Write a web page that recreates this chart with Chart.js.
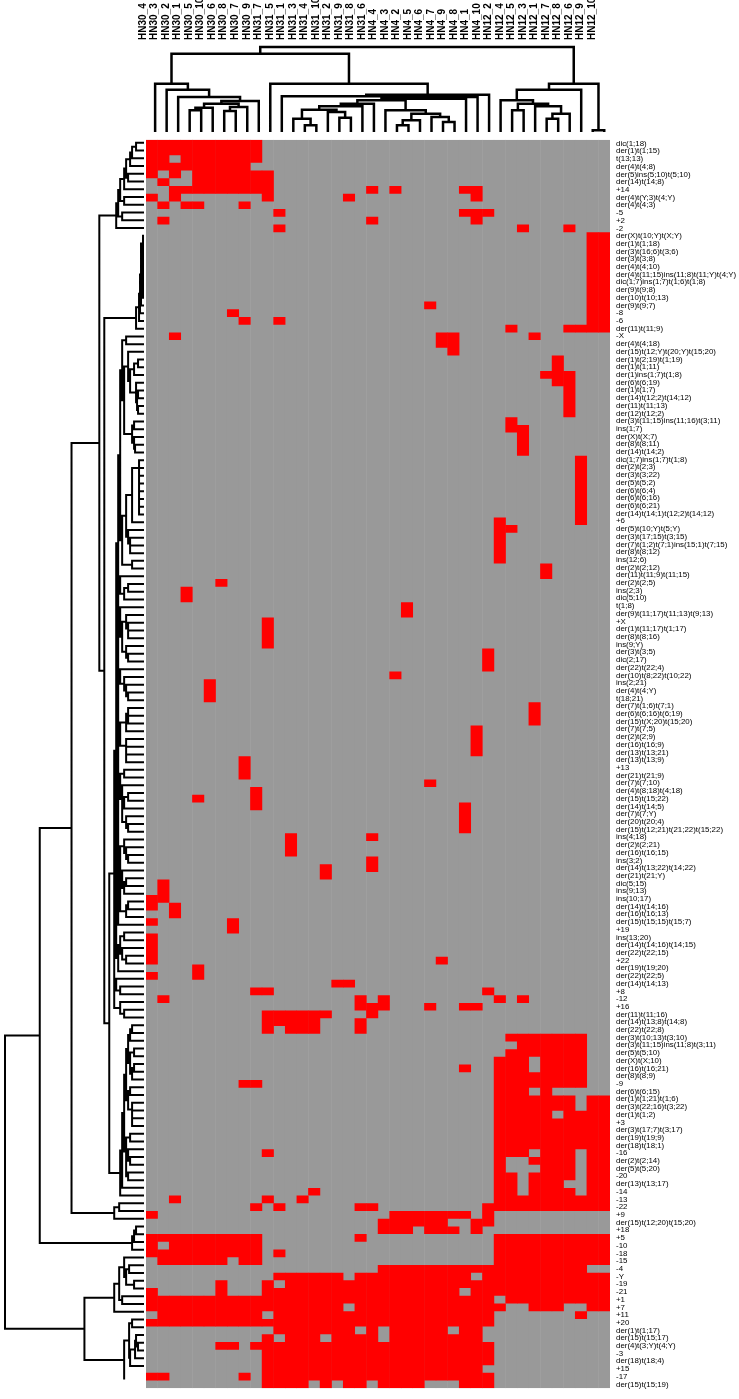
<!DOCTYPE html>
<html>
<head>
<meta charset="utf-8">
<script src="https://cdn.jsdelivr.net/npm/chart.js@4.4.0/dist/chart.umd.min.js"></script>
<style>
  html, body { margin: 0; padding: 0; background: #fff; }
  body { width: 739px; height: 1399px; position: relative; overflow: hidden; }
  canvas { position: absolute; }
</style>
</head>
<body>
<canvas id="colTree" width="484" height="139" style="left:136px;top:0px"></canvas>
<canvas id="rowTree" width="146" height="1254" style="left:0px;top:139px"></canvas>
<canvas id="heat" width="593" height="1270" style="left:146px;top:129px"></canvas>
<script>
const colLabels = ['HN30_4','HN30_3','HN30_2','HN30_1','HN30_5','HN30_10','HN30_6','HN30_8','HN30_7','HN30_9',
  'HN31_7','HN31_5','HN31_1','HN31_3','HN31_4','HN31_10','HN31_2','HN31_9','HN31_8','HN31_6',
  'HN4_4','HN4_3','HN4_2','HN4_5','HN4_6','HN4_7','HN4_9','HN4_8','HN4_1','HN4_10',
  'HN12_2','HN12_4','HN12_5','HN12_3','HN12_1','HN12_7','HN12_8','HN12_6','HN12_9','HN12_10'];

const rowLabels = ['dic(1;18)','der(1)t(1;15)','t(13;13)','der(4)t(4;8)','der(5)ins(5;10)t(5;10)','der(14)t(14;8)','+14',
  'der(4)t(Y;3)t(4;Y)','der(4)t(4;3)','-5','+2','-2','der(X)t(10;Y)t(X;Y)','der(1)t(1;18)','der(3)t(16;6)t(3;6)',
  'der(3)t(3;8)','der(4)t(4;10)','der(4)t(11;15)ins(11;8)t(11;Y)t(4;Y)','dic(1;7)ins(1;7)t(1;6)t(1;8)','der(9)t(9;8)',
  'der(10)t(10;13)','der(9)t(9;7)','-8','-6','der(11)t(11;9)','-X','der(4)t(4;18)','der(15)t(12;Y)t(20;Y)t(15;20)',
  'der(1)t(2;19)t(1;19)','der(1)t(1;11)','der(1)ins(1;7)t(1;8)','der(6)t(6;19)','der(1)t(1;7)','der(14)t(12;2)t(14;12)',
  'der(11)t(11;13)','der(12)t(12;2)','der(3)t(11;15)ins(11;16)t(3;11)','ins(1;7)','der(X)t(X;7)','der(8)t(8;11)',
  'der(14)t(14;2)','dic(1;7)ins(1;7)t(1;8)','der(2)t(2;3)','der(3)t(3;22)','der(5)t(5;2)','der(6)t(6;4)','der(6)t(6;16)',
  'der(6)t(6;21)','der(14)t(14;1)t(12;2)t(14;12)','+6','der(5)t(10;Y)t(5;Y)','der(3)t(17;15)t(3;15)',
  'der(7)t(1;2)t(7;1)ins(15;1)t(7;15)','der(8)t(8;12)','ins(12;6)','der(2)t(2;12)','der(11)t(11;9)t(11;15)','der(2)t(2;5)',
  'ins(2;3)','dic(5;10)','t(1;8)','der(9)t(11;17)t(11;13)t(9;13)','+X','der(1)t(11;17)t(1;17)','der(8)t(8;16)','ins(9;Y)',
  'der(3)t(3;5)','dic(2;17)','der(22)t(22;4)','der(10)t(8;22)t(10;22)','ins(2;21)','der(4)t(4;Y)','t(18;21)',
  'der(7)t(1;6)t(7;1)','der(6)t(6;16)t(6;19)','der(15)t(X;20)t(15;20)','der(7)t(7;5)','der(2)t(2;9)','der(16)t(16;9)',
  'der(13)t(13;21)','der(13)t(13;9)','+13','der(21)t(21;9)','der(7)t(7;10)','der(4)t(8;18)t(4;18)','der(15)t(15;22)',
  'der(14)t(14;5)','der(7)t(7;Y)','der(20)t(20;4)','der(15)t(12;21)t(21;22)t(15;22)','ins(4;18)','der(2)t(2;21)',
  'der(16)t(16;15)','ins(3;2)','der(14)t(13;22)t(14;22)','der(21)t(21;Y)','dic(5;15)','ins(9;13)','ins(10;17)',
  'der(14)t(14;16)','der(16)t(16;13)','der(15)t(15;15)t(15;7)','+19','ins(13;20)','der(14)t(14;16)t(14;15)',
  'der(22)t(22;15)','+22','der(19)t(19;20)','der(22)t(22;5)','der(14)t(14;13)','+8','-12','+16','der(11)t(11;16)',
  'der(14)t(13;8)t(14;8)','der(22)t(22;8)','der(3)t(10;13)t(3;10)','der(3)t(11;15)ins(11;8)t(3;11)','der(5)t(5;10)',
  'der(X)t(X;10)','der(16)t(16;21)','der(8)t(8;9)','-9','der(6)t(6;15)','der(1)t(1;21)t(1;6)','der(3)t(22;16)t(3;22)',
  'der(1)t(1;2)','+3','der(3)t(17;7)t(3;17)','der(19)t(19;9)','der(18)t(18;1)','-16','der(2)t(2;14)','der(5)t(5;20)',
  '-20','der(13)t(13;17)','-14','-13','-22','+9','der(15)t(12;20)t(15;20)','+18','+5','-10','-18','-15','-4','-Y',
  '-19','-21','+1','+7','+11','+20','der(1)t(1;17)','der(15)t(15;17)','der(4)t(3;Y)t(4;Y)','-3','der(18)t(18;4)',
  '+15','-17','der(15)t(15;19)'];

// one string per row, 1 = present (red); groups: HN30 | HN31 | HN4 | HN12
const cells = [
  '1111111111 0000000000 0000000000 0000000000',
  '1111111111 0000000000 0000000000 0000000000',
  '1101111111 0000000000 0000000000 0000000000',
  '1111111110 0000000000 0000000000 0000000000',
  '1010111111 1000000000 0000000000 0000000000',
  '0100111111 1000000000 0000000000 0000000000',
  '0011111111 1000000001 0100000110 0000000000',
  '1010000000 1000000100 0000000010 0000000000',
  '0101100010 0000000000 0000000000 0000000000',
  '0000000000 0100000000 0000000111 0000000000',
  '0100000000 0000000001 0000000010 0000000000',
  '0000000000 0100000000 0000000000 0010001000',
  '0000000000 0000000000 0000000000 0000000011',
  '0000000000 0000000000 0000000000 0000000011',
  '0000000000 0000000000 0000000000 0000000011',
  '0000000000 0000000000 0000000000 0000000011',
  '0000000000 0000000000 0000000000 0000000011',
  '0000000000 0000000000 0000000000 0000000011',
  '0000000000 0000000000 0000000000 0000000011',
  '0000000000 0000000000 0000000000 0000000011',
  '0000000000 0000000000 0000000000 0000000011',
  '0000000000 0000000000 0000100000 0000000011',
  '0000000100 0000000000 0000000000 0000000011',
  '0000000010 0100000000 0000000000 0000000011',
  '0000000000 0000000000 0000000000 0100001111',
  '0010000000 0000000000 0000011000 0001000000',
  '0000000000 0000000000 0000011000 0000000000',
  '0000000000 0000000000 0000001000 0000000000',
  '0000000000 0000000000 0000000000 0000010000',
  '0000000000 0000000000 0000000000 0000010000',
  '0000000000 0000000000 0000000000 0000111000',
  '0000000000 0000000000 0000000000 0000011000',
  '0000000000 0000000000 0000000000 0000001000',
  '0000000000 0000000000 0000000000 0000001000',
  '0000000000 0000000000 0000000000 0000001000',
  '0000000000 0000000000 0000000000 0000001000',
  '0000000000 0000000000 0000000000 0100000000',
  '0000000000 0000000000 0000000000 0110000000',
  '0000000000 0000000000 0000000000 0010000000',
  '0000000000 0000000000 0000000000 0010000000',
  '0000000000 0000000000 0000000000 0010000000',
  '0000000000 0000000000 0000000000 0000000100',
  '0000000000 0000000000 0000000000 0000000100',
  '0000000000 0000000000 0000000000 0000000100',
  '0000000000 0000000000 0000000000 0000000100',
  '0000000000 0000000000 0000000000 0000000100',
  '0000000000 0000000000 0000000000 0000000100',
  '0000000000 0000000000 0000000000 0000000100',
  '0000000000 0000000000 0000000000 0000000100',
  '0000000000 0000000000 0000000000 1000000100',
  '0000000000 0000000000 0000000000 1100000000',
  '0000000000 0000000000 0000000000 1000000000',
  '0000000000 0000000000 0000000000 1000000000',
  '0000000000 0000000000 0000000000 1000000000',
  '0000000000 0000000000 0000000000 1000000000',
  '0000000000 0000000000 0000000000 0000100000',
  '0000000000 0000000000 0000000000 0000100000',
  '0000001000 0000000000 0000000000 0000000000',
  '0001000000 0000000000 0000000000 0000000000',
  '0001000000 0000000000 0000000000 0000000000',
  '0000000000 0000000000 0010000000 0000000000',
  '0000000000 0000000000 0010000000 0000000000',
  '0000000000 1000000000 0000000000 0000000000',
  '0000000000 1000000000 0000000000 0000000000',
  '0000000000 1000000000 0000000000 0000000000',
  '0000000000 1000000000 0000000000 0000000000',
  '0000000000 0000000000 0000000001 0000000000',
  '0000000000 0000000000 0000000001 0000000000',
  '0000000000 0000000000 0000000001 0000000000',
  '0000000000 0000000000 0100000000 0000000000',
  '0000010000 0000000000 0000000000 0000000000',
  '0000010000 0000000000 0000000000 0000000000',
  '0000010000 0000000000 0000000000 0000000000',
  '0000000000 0000000000 0000000000 0001000000',
  '0000000000 0000000000 0000000000 0001000000',
  '0000000000 0000000000 0000000000 0001000000',
  '0000000000 0000000000 0000000010 0000000000',
  '0000000000 0000000000 0000000010 0000000000',
  '0000000000 0000000000 0000000010 0000000000',
  '0000000000 0000000000 0000000010 0000000000',
  '0000000010 0000000000 0000000000 0000000000',
  '0000000010 0000000000 0000000000 0000000000',
  '0000000010 0000000000 0000000000 0000000000',
  '0000000000 0000000000 0000100000 0000000000',
  '0000000001 0000000000 0000000000 0000000000',
  '0000100001 0000000000 0000000000 0000000000',
  '0000000001 0000000000 0000000100 0000000000',
  '0000000000 0000000000 0000000100 0000000000',
  '0000000000 0000000000 0000000100 0000000000',
  '0000000000 0000000000 0000000100 0000000000',
  '0000000000 0010000001 0000000000 0000000000',
  '0000000000 0010000000 0000000000 0000000000',
  '0000000000 0010000000 0000000000 0000000000',
  '0000000000 0000000001 0000000000 0000000000',
  '0000000000 0000010001 0000000000 0000000000',
  '0000000000 0000010000 0000000000 0000000000',
  '0100000000 0000000000 0000000000 0000000000',
  '0100000000 0000000000 0000000000 0000000000',
  '1100000000 0000000000 0000000000 0000000000',
  '1010000000 0000000000 0000000000 0000000000',
  '0010000000 0000000000 0000000000 0000000000',
  '1000000100 0000000000 0000000000 0000000000',
  '0000000100 0000000000 0000000000 0000000000',
  '1000000000 0000000000 0000000000 0000000000',
  '1000000000 0000000000 0000000000 0000000000',
  '1000000000 0000000000 0000000000 0000000000',
  '1000000000 0000000000 0000010000 0000000000',
  '0000100000 0000000000 0000000000 0000000000',
  '1000100000 0000000000 0000000000 0000000000',
  '0000000000 0000001100 0000000000 0000000000',
  '0000000001 1000000000 0000000001 0000000000',
  '0100000000 0000000010 1000000000 1010000000',
  '0000000000 0000000011 1000100110 0000000000',
  '0000000000 1111110001 0000000000 0000000000',
  '0000000000 1111100010 0000000000 0000000000',
  '0000000000 1011100010 0000000000 0000000000',
  '0000000000 0000000000 0000000000 0111111100',
  '0000000000 0000000000 0000000000 0011111100',
  '0000000000 0000000000 0000000000 0111111100',
  '0000000000 0000000000 0000000000 1110111100',
  '0000000000 0000000000 0000000100 1110111100',
  '0000000000 0000000000 0000000000 1111111100',
  '0000000011 0000000000 0000000000 1111111100',
  '0000000000 0000000000 0000000000 1110100000',
  '0000000000 0000000000 0000000000 1111111011',
  '0000000000 0000000000 0000000000 1111111011',
  '0000000000 0000000000 0000000000 1111101111',
  '0000000000 0000000000 0000000000 1111111111',
  '0000000000 0000000000 0000000000 1111111111',
  '0000000000 0000000000 0000000000 1111111111',
  '0000000000 0000000000 0000000000 1111111111',
  '0000000000 1000000000 0000000000 1110111011',
  '0000000000 0000000000 0000000000 1001111011',
  '0000000000 0000000000 0000000000 1000111011',
  '0000000000 0000000000 0000000000 1101111011',
  '0000000000 0000000000 0000000000 1101110011',
  '0000000000 0000100000 0000000000 1101111011',
  '0010000000 1001000000 0000000000 1111111111',
  '0000000001 0100000011 0000000001 1111111111',
  '1000000000 0000000000 0111111101 0000000000',
  '0000000000 0000000000 1111110011 0000000000',
  '0000000000 0000000000 1110111010 0000000000',
  '1111111111 0000000010 0000000000 1111111111',
  '1011111111 0000000000 0000000000 1111111111',
  '1111111111 0100000000 0000000000 1111111111',
  '0111111011 0000000000 0000000000 1111111111',
  '0000000000 0000000000 1111111111 1111111100',
  '0000000000 0111111011 1111111101 1111111111',
  '0000001000 1011111111 1111111111 1111111111',
  '1000001000 1111111111 1111111011 1111111111',
  '1111111111 1111111111 1111111111 0111111111',
  '1111111111 1111111011 1111111111 1001110011',
  '0111111111 0111111111 1111111111 0000000100',
  '1111111111 1111111111 1111111111 0000000000',
  '0000000000 0111111101 0111110110 0000000000',
  '0000000000 1011101111 0111111110 0000000000',
  '0000001101 1111111111 1111111111 0000000000',
  '0000000000 1111111111 1111111111 0000000000',
  '0000000000 1111111111 1111111111 0000000000',
  '0000000000 1111111111 1111111110 0000000000',
  '1100000010 1111111111 1111111111 0000000000',
  '0000000000 1111010110 1111000111 0000000000'
].map(s => s.replace(/ /g, ''));

// join height between neighbouring leaves (column tree, left to right)
const colJoin = [145, 127, 105, 65, 73, 85, 63, 75, 93, 235,
  145, 107, 40, 20, 67, 60, 43, 77, 85, 95,
  65, 20, 35, 55, 45, 30, 100, 105, 112, 255,
  95, 65, 85, 77, 40, 55, 127, 145, 5];

// join height between neighbouring leaves (row tree, top to bottom)
const rowJoin = [8, 12, 14, 18, 16, 20, 24, 20, 26, 22, 28,
  45,
  1, 1, 1, 1, 1, 1, 1, 1, 3, 4, 5, 8,
  40,
  18, 22, 16, 6, 10, 14, 8, 6, 7, 6, 20, 10, 12, 10, 9, 24, 5, 5, 5, 5, 5, 5, 5, 12,
  18, 16, 14, 14, 22, 12, 26, 24, 16, 20, 26, 24, 18, 16, 16, 22, 18, 16, 26, 24, 20, 18, 16,
  26, 16, 16, 18, 24, 18, 18, 18, 26, 20, 24, 22, 16, 20, 22, 18, 16, 26, 20, 18, 16, 24, 22,
  18, 20, 24, 16, 18, 26, 28, 20, 24, 22, 18, 26, 30, 28, 24, 30, 24, 20,
  35,
  12, 14, 16, 10, 14, 10, 12, 18, 14, 16, 12, 12, 12, 20, 14, 18, 16, 14, 18, 16, 22, 24,
  73,
  25, 30,
  105,
  8, 10, 12,
  140,
  20, 15, 18, 10, 25, 22, 30, 60, 12, 15, 8, 6, 9, 14, 20];

function buildTree(gaps, lo, hi) {
  if (lo === hi) return { pos: lo, h: 0 };
  let k = lo;
  for (let i = lo; i < hi; i++) if (gaps[i] > gaps[k]) k = i;
  const a = buildTree(gaps, lo, k);
  const b = buildTree(gaps, k + 1, hi);
  return { pos: (a.pos + b.pos) / 2, h: gaps[k], a, b };
}

function treePath(node, out) {
  if (!node.a) return out;
  out.push([node.a.pos, node.a.h], [node.a.pos, node.h], [node.b.pos, node.h], [node.b.pos, node.b.h], [NaN, NaN]);
  treePath(node.a, out);
  treePath(node.b, out);
  return out;
}

const nRows = rowLabels.length;
const nCols = colLabels.length;
const colMax = Math.max(...colJoin);
const rowMax = Math.max(...rowJoin);
const colPath = treePath(buildTree(colJoin, 0, nCols - 1), []);
const rowPath = treePath(buildTree(rowJoin, 0, nRows - 1), []);

const base = {
  responsive: false,
  animation: false,
  events: [],
  plugins: { legend: { display: false }, tooltip: { enabled: false } }
};

new Chart(document.getElementById('colTree'), {
  type: 'scatter',
  data: {
    datasets: [{
      data: colPath.map(p => ({ x: p[0], y: p[1] })),
      showLine: true,
      spanGaps: false,
      borderColor: '#000000',
      borderWidth: 2.5,
      pointRadius: 0,
      clip: false
    }]
  },
  options: {
    ...base,
    layout: { padding: { left: 10, right: 10, top: 0, bottom: 7 } },
    scales: {
      x: {
        type: 'linear',
        position: 'top',
        min: -0.5,
        max: nCols - 0.5,
        afterBuildTicks: s => { s.ticks = colLabels.map((_, i) => ({ value: i })); },
        afterFit: s => { s.height = 47; },
        grid: { display: false, drawTicks: false },
        border: { display: false },
        ticks: {
          autoSkip: false,
          minRotation: 90,
          maxRotation: 90,
          padding: 7,
          color: '#000000',
          font: { family: 'Liberation Sans, Arial, sans-serif', size: 10, weight: 'bold' },
          callback: (v, i) => colLabels[i]
        }
      },
      y: { display: false, min: 0, max: colMax }
    }
  }
});

new Chart(document.getElementById('rowTree'), {
  type: 'scatter',
  data: {
    datasets: [{
      data: rowPath.map(p => ({ x: p[1], y: p[0] })),
      showLine: true,
      spanGaps: false,
      borderColor: '#000000',
      borderWidth: 2,
      pointRadius: 0,
      clip: false
    }]
  },
  options: {
    ...base,
    layout: { padding: { left: 5, right: 2, top: 0, bottom: 0 } },
    scales: {
      x: { type: 'linear', display: false, reverse: true, min: 0, max: rowMax },
      y: { type: 'linear', display: false, reverse: true, min: -0.5, max: nRows - 0.5 }
    }
  }
});

const redBars = [];
colLabels.forEach((c, j) => {
  let r = 0;
  while (r < nRows) {
    if (cells[r][j] === '1') {
      let e = r;
      while (e < nRows && cells[e][j] === '1') e++;
      redBars.push({ x: c, y: [r, e] });
      r = e;
    } else {
      r++;
    }
  }
});

new Chart(document.getElementById('heat'), {
  type: 'bar',
  data: {
    labels: colLabels,
    datasets: [
      { data: redBars, backgroundColor: '#ff0000', borderWidth: 0, barPercentage: 1.04, categoryPercentage: 1, grouped: false },
      { data: colLabels.map(c => ({ x: c, y: [0, nRows] })), backgroundColor: '#999999', borderWidth: 0, barPercentage: 1.04, categoryPercentage: 1, grouped: false }
    ]
  },
  options: {
    ...base,
    layout: { padding: { left: 0, right: 0, top: 10, bottom: 7 } },
    scales: {
      x: { display: false },
      y: {
        type: 'linear',
        position: 'right',
        reverse: true,
        min: 0,
        max: nRows,
        afterBuildTicks: s => { s.ticks = rowLabels.map((_, i) => ({ value: i + 0.5 })); },
        afterFit: s => { s.width = 129; },
        grid: { display: false, drawTicks: false },
        border: { display: false },
        ticks: {
          autoSkip: false,
          padding: 6,
          color: '#000000',
          font: { family: 'Liberation Sans, Arial, sans-serif', size: 7.9 },
          callback: (v, i) => rowLabels[i]
        }
      }
    }
  }
});
</script>
</body>
</html>
